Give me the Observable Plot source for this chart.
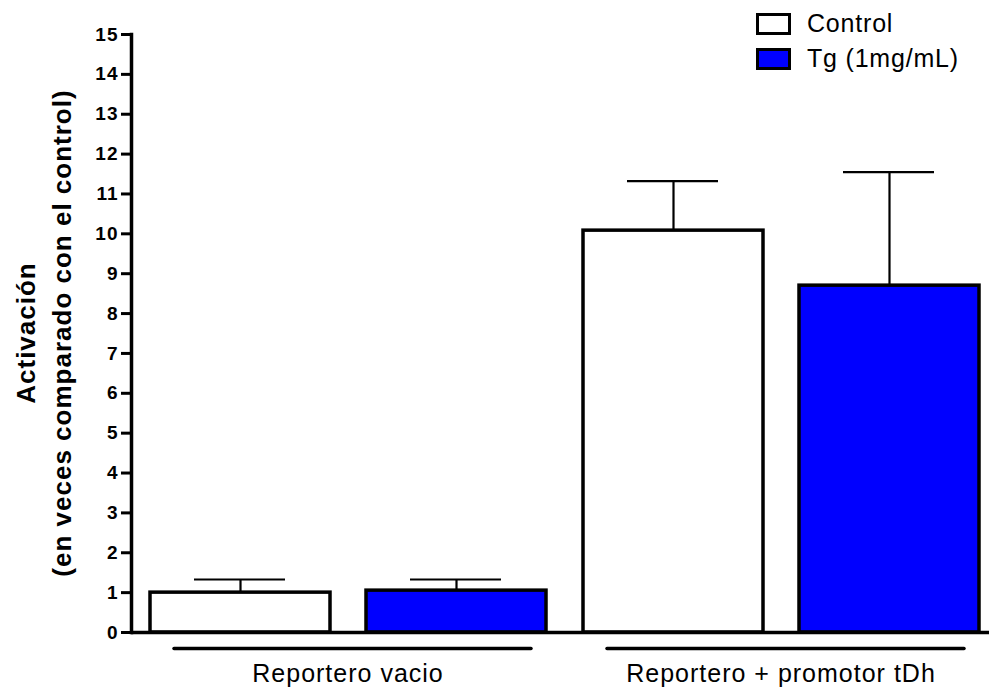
<!DOCTYPE html>
<html>
<head>
<meta charset="utf-8">
<script src="https://cdn.jsdelivr.net/npm/d3@7"></script>
<script src="https://cdn.jsdelivr.net/npm/@observablehq/plot@0.6"></script>
<style>
  body { margin: 0; background: #fff; }
  #wrap { position: relative; width: 989px; height: 692px; overflow: hidden; font-family: "Liberation Sans", Arial, sans-serif; }
  #ylabel { position: absolute; left: 44px; top: 333px; width: 600px; transform: translate(-50%, -50%) rotate(-90deg);
            text-align: center; line-height: 36px; font-size: 26px; font-weight: bold; letter-spacing: 1px; color: #000; white-space: nowrap; }
  .leg-row { position: absolute; left: 756px; height: 22px; display: flex; align-items: center; }
  .swatch { box-sizing: border-box; width: 35px; height: 22px; border: 3.5px solid #000; }
  .leg-text { position: absolute; left: 51px; top: -2px; font-size: 25px; line-height: 25px; letter-spacing: 0.8px; white-space: nowrap; color: #000; }
</style>
</head>
<body>
<div id="wrap"></div>
<script>
// ---- data ----
const groups = ["Reportero vacio", "Reportero + promotor tDh"];
const conditions = ["Control", "Tg (1mg/mL)"];
const conditionColors = ["#ffffff", "#0000ff"];
const controlMeans = [1.0, 10.08];
const controlErrors = [0.33, 1.24];
const tgMeans = [1.05, 8.7];
const tgErrors = [0.28, 2.85];
const yTicks = [0, 1, 2, 3, 4, 5, 6, 7, 8, 9, 10, 11, 12, 13, 14, 15];
const yLabelLines = ["Activación", "(en veces comparado con el control)"];

const rows = [];
groups.forEach((g, i) => {
  rows.push({group: g, cond: conditions[0], value: controlMeans[i], err: controlErrors[i]});
  rows.push({group: g, cond: conditions[1], value: tgMeans[i], err: tgErrors[i]});
});

const chart = Plot.plot({
  width: 989,
  height: 692,
  marginLeft: 131,
  marginTop: 34,
  marginBottom: 60,
  marginRight: 0,
  style: {fontFamily: "'Liberation Sans', Arial, sans-serif", letterSpacing: "1px", background: "#fff", color: "#000"},
  fx: {domain: groups, range: [131, 997], paddingInner: 0, paddingOuter: 0},
  x: {domain: conditions, paddingInner: 0.1686, paddingOuter: 0.0843, align: 0.5, axis: null},
  y: {domain: [0, 15]},
  color: {domain: conditions, range: conditionColors},
  marks: [
    Plot.barY(rows, {fx: "group", x: "cond", y: "value", fill: "cond", stroke: "#000", strokeWidth: 3.5}),
    Plot.ruleX(rows, {fx: "group", x: "cond", y1: "value", y2: d => d.value + d.err, stroke: "#000", strokeWidth: 2.2}),
    Plot.tickY(rows, {fx: "group", x: "cond", y: d => d.value + d.err, stroke: "#000", strokeWidth: 2.2, insetLeft: 44, insetRight: 45}),
    Plot.ruleY([0], {stroke: "#000", strokeWidth: 3.5}),
    Plot.ruleY([0], {stroke: "#000", strokeWidth: 3.5, dy: 16, insetLeft: 43, insetRight: 33, strokeLinecap: "round"}),
    Plot.frame({anchor: "left", facetAnchor: "left", stroke: "#000", strokeWidth: 3.5}),
    Plot.axisY({ticks: yTicks, tickSize: 10, tickPadding: 3, strokeWidth: 3, fontSize: 19, fontWeight: "bold", label: null, tickFormat: d => String(d)}),
    Plot.axisFx({anchor: "bottom", tickSize: 0, tickPadding: 32, fontSize: 25, label: null})
  ]
});

const wrap = document.getElementById("wrap");
wrap.appendChild(chart);

// y-axis title (two lines, rotated)
const yl = document.createElement("div");
yl.id = "ylabel";
yl.innerHTML = yLabelLines.map(t => `<div>${t}</div>`).join("");
wrap.appendChild(yl);

// legend
const legendTops = [13, 48];
conditions.forEach((c, i) => {
  const row = document.createElement("div");
  row.className = "leg-row";
  row.style.top = legendTops[i] + "px";
  const sw = document.createElement("div");
  sw.className = "swatch";
  sw.style.background = conditionColors[i];
  const tx = document.createElement("div");
  tx.className = "leg-text";
  tx.textContent = c;
  row.appendChild(sw);
  row.appendChild(tx);
  wrap.appendChild(row);
});
</script>
</body>
</html>
